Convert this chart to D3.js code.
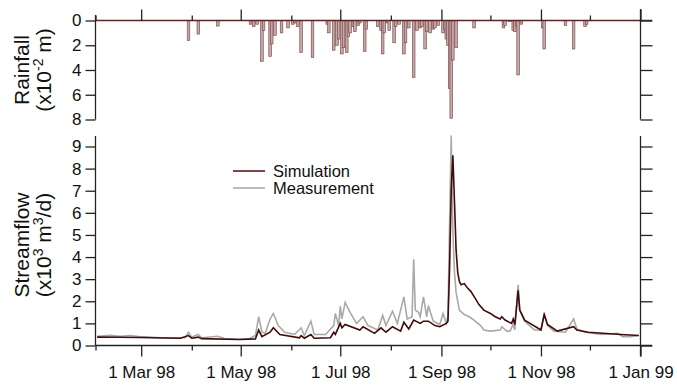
<!DOCTYPE html>
<html>
<head>
<meta charset="utf-8">
<script src="https://cdn.jsdelivr.net/npm/d3@7"></script>
<style>
  body { margin: 0; background: #fff; }
  text { font-family: "Liberation Sans", Arial, Helvetica, sans-serif; fill: #111; }
</style>
</head>
<body>
<div id="chart"></div>
<script>
// daily rainfall (x10^-2 m), 1998
const rainDates = ["03-30","04-05","04-17","05-07","05-09","05-11","05-14","05-15","05-19","05-20","05-22","05-26","05-30",
  "06-02","06-03","06-05","06-07","06-14","06-23","06-24","06-27","06-29","06-30","07-02","07-03","07-05","07-06","07-07",
  "07-09","07-10","07-12","07-13","07-16","07-17","07-24","07-26","07-27","07-28","07-30","07-31","08-03","08-04","08-06",
  "08-09","08-10","08-12","08-15","08-17","08-19","08-20","08-22","08-23","08-25","08-27","08-28","08-30","09-02","09-03",
  "09-04","09-05","09-06","09-07","09-08","09-10","09-21","10-09","10-10","10-13","10-15","10-16","10-17","10-18","10-20",
  "11-02","11-03","11-16","11-21","11-28","11-29"];
const rainValues = [1.6,1.1,0.45,0.3,0.5,0.3,3.3,0.8,2.9,1.9,1.2,1.0,0.6,
  0.3,0.2,0.5,2.6,3.0,0.3,1.0,2.4,2.0,1.5,2.7,2.2,2.6,1.3,1.0,
  0.5,0.9,0.4,0.2,2.5,0.7,0.5,0.8,2.7,1.0,0.2,0.8,1.8,0.5,0.3,
  2.7,1.8,0.6,4.6,0.8,0.6,0.5,2.3,0.9,1.0,0.7,0.6,0.4,1.0,0.7,
  1.5,2.0,5.5,7.9,3.2,2.2,0.6,0.6,0.4,0.1,0.8,0.9,0.5,4.4,0.3,
  0.6,2.3,0.4,2.3,0.5,0.3];

// measured streamflow (x10^3 m3/d)
const measDates = ["02-02","02-10","02-16","02-22","02-28","03-13","03-28","03-30","04-01","04-05","04-07","04-17","04-21",
  "04-30","05-06","05-10","05-12","05-14","05-16","05-19","05-21","05-24","05-28","06-03","06-07","06-09","06-13","06-15",
  "06-22","06-27","06-28","06-30","07-01","07-02","07-04","07-07","07-11","07-15","07-18","07-24","07-27","07-29","08-02",
  "08-05","08-09","08-11","08-14","08-15","08-16","08-18","08-19","08-21","08-23","08-24","08-27","08-31","09-02","09-04",
  "09-05","09-06","09-07","09-08","09-09","09-10","09-12","09-15","09-18","09-20","09-25","09-27","10-01","10-07","10-08",
  "10-11","10-13","10-15","10-16","10-18","10-19","10-22","10-28","11-01","11-03","11-05","11-09","11-16","11-21","11-23",
  "11-28","12-08","12-18","12-21","12-26","12-31"];
const measValues = [0.42,0.46,0.42,0.45,0.40,0.35,0.35,0.60,0.38,0.50,0.35,0.42,0.32,
  0.28,0.30,0.45,1.30,0.60,0.55,1.20,1.45,0.90,0.60,0.50,0.80,0.45,1.10,0.50,
  0.50,0.90,1.45,0.90,1.77,1.20,1.95,1.50,1.00,1.30,0.90,0.70,1.36,0.90,1.55,
  1.00,2.20,1.20,1.30,3.90,1.60,1.50,1.30,2.20,1.30,1.80,1.10,0.95,1.45,1.00,
  1.30,5.50,9.50,5.20,3.30,2.40,1.60,1.40,1.30,1.20,0.90,0.70,0.65,0.70,0.85,
  0.65,0.65,0.95,0.70,2.75,1.60,1.10,0.70,0.70,1.45,0.90,0.65,0.60,1.20,0.75,
  0.60,0.50,0.55,0.40,0.40,0.45];

// simulated streamflow (x10^3 m3/d)
const simDates = ["02-02","02-16","02-28","03-25","03-30","04-01","04-05","04-07","04-30","05-10","05-12","05-14","05-19",
  "05-21","05-25","06-06","06-07","06-09","06-13","06-15","06-25","06-27","06-28","07-01","07-02","07-04","07-13","07-15",
  "07-22","07-26","07-29","08-02","08-07","08-09","08-12","08-15","08-19","08-21","08-24","08-28","08-31","09-04","09-05",
  "09-06","09-07","09-08","09-09","09-10","09-11","09-12","09-13","09-15","09-17","09-19","09-22","09-24","09-27","10-01",
  "10-04","10-07","10-08","10-10","10-14","10-15","10-16","10-18","10-19","10-22","11-01","11-03","11-05","11-11","11-21",
  "11-23","11-30","12-20","12-31"];
const simValues = [0.38,0.37,0.36,0.33,0.45,0.33,0.38,0.31,0.27,0.30,0.70,0.40,0.60,
  0.80,0.50,0.35,0.45,0.33,0.50,0.33,0.35,0.60,0.50,1.00,0.80,0.95,0.70,0.85,
  0.55,0.80,0.60,0.85,0.65,1.05,0.75,1.15,1.00,1.10,1.10,0.90,0.85,1.00,1.10,
  3.50,7.00,8.60,6.50,4.30,3.30,2.90,2.75,2.80,2.60,2.45,2.10,1.85,1.60,1.45,
  1.30,1.20,1.30,1.15,1.00,1.20,0.95,2.50,1.60,1.15,0.70,1.40,0.95,0.65,0.85,
  0.70,0.60,0.50,0.45];

const majorTicks = ["1998-03-01","1998-05-01","1998-07-01","1998-09-01","1998-11-01","1999-01-01"];
const majorLabels = ["1 Mar 98","1 May 98","1 Jul 98","1 Sep 98","1 Nov 98","1 Jan 99"];
const minorTicks = ["1998-02-01","1998-04-01","1998-06-01","1998-08-01","1998-10-01","1998-12-01"];
const rainTicks = [0, 2, 4, 6, 8];
const flowTicks = [0, 1, 2, 3, 4, 5, 6, 7, 8, 9];

const parse = d3.timeParse("%Y-%m-%d");
const day = s => parse("1998-" + s);

const width = 677, height = 387;
const svg = d3.select("#chart").append("svg")
  .attr("width", width).attr("height", height);

const left = 95.5, right = 640.5;
const x = d3.scaleTime().domain([parse("1998-02-01"), parse("1999-01-01")]).range([left, right]);
const yRain = d3.scaleLinear().domain([0, 8]).range([20.5, 119.5]);
const yFlow = d3.scaleLinear().domain([0, 9]).range([345.5, 146.5]);

const axisColor = "#222";

function styleAxis(g) {
  g.select(".domain").remove();
  g.selectAll(".tick line").attr("stroke", axisColor).attr("stroke-width", 1.3);
  g.selectAll(".tick text").style("font-size", "17px").attr("fill", "#111");
}

// ---- rainfall panel ----
const rain = rainDates.map((d, i) => ({date: day(d), v: rainValues[i]}));

svg.append("g").selectAll("rect")
  .data(rain).enter().append("rect")
  .attr("x", d => x(d.date) - 1.3)
  .attr("y", yRain(0))
  .attr("width", 2.6)
  .attr("height", d => yRain(d.v) - yRain(0))
  .attr("fill", "#c9a7a7")
  .attr("stroke", "#6e3f3f")
  .attr("stroke-width", 0.6);

// baseline
svg.append("line")
  .attr("x1", left).attr("x2", 652).attr("y1", yRain(0)).attr("y2", yRain(0))
  .attr("stroke", "#5a2626").attr("stroke-width", 1.3);

svg.append("g").attr("transform", `translate(0,${yRain(0)})`)
  .call(d3.axisTop(x).tickValues(majorTicks.map(parse)).tickSize(11).tickFormat(""))
  .call(styleAxis);
svg.append("g").attr("transform", `translate(0,${yRain(0)})`)
  .call(d3.axisTop(x).tickValues(minorTicks.map(parse)).tickSize(5).tickFormat(""))
  .call(styleAxis);

svg.append("g").attr("transform", `translate(${left},0)`)
  .call(d3.axisLeft(yRain).tickValues(rainTicks).tickSize(10).tickPadding(4))
  .call(styleAxis);
svg.append("g").attr("transform", `translate(${right},0)`)
  .call(d3.axisRight(yRain).tickValues(rainTicks).tickSize(12).tickFormat(""))
  .call(styleAxis);

svg.append("line").attr("x1", left).attr("x2", left).attr("y1", 15).attr("y2", yRain(8))
  .attr("stroke", axisColor).attr("stroke-width", 1.3);
svg.append("line").attr("x1", right).attr("x2", right).attr("y1", 9).attr("y2", yRain(8))
  .attr("stroke", axisColor).attr("stroke-width", 1.3);

// ---- streamflow panel ----
const meas = measDates.map((d, i) => ({date: day(d), v: measValues[i]}));
const sim = simDates.map((d, i) => ({date: day(d), v: simValues[i]}));

const line = d3.line().x(d => x(d.date)).y(d => yFlow(d.v));

svg.append("path").datum(meas)
  .attr("d", line).attr("fill", "none")
  .attr("stroke", "#a9a9a9").attr("stroke-width", 1.6);
svg.append("path").datum(sim)
  .attr("d", line).attr("fill", "none")
  .attr("stroke", "#3f0b0b").attr("stroke-width", 1.6);

svg.append("line").attr("x1", left).attr("x2", 652).attr("y1", yFlow(0)).attr("y2", yFlow(0))
  .attr("stroke", axisColor).attr("stroke-width", 1.3);

svg.append("g").attr("transform", `translate(0,${yFlow(0)})`)
  .call(d3.axisBottom(x).tickValues(majorTicks.map(parse)).tickSize(11).tickPadding(9)
    .tickFormat((d, i) => majorLabels[i]))
  .call(styleAxis);
svg.append("g").attr("transform", `translate(0,${yFlow(0)})`)
  .call(d3.axisBottom(x).tickValues(minorTicks.map(parse)).tickSize(5).tickFormat(""))
  .call(styleAxis);

svg.append("g").attr("transform", `translate(${left},0)`)
  .call(d3.axisLeft(yFlow).tickValues(flowTicks).tickSize(10).tickPadding(4))
  .call(styleAxis);
svg.append("g").attr("transform", `translate(${right},0)`)
  .call(d3.axisRight(yFlow).tickValues(flowTicks).tickSize(12).tickFormat(""))
  .call(styleAxis);

svg.append("line").attr("x1", left).attr("x2", left).attr("y1", 136).attr("y2", yFlow(0))
  .attr("stroke", axisColor).attr("stroke-width", 1.3);
svg.append("line").attr("x1", right).attr("x2", right).attr("y1", 136).attr("y2", yFlow(0) + 11)
  .attr("stroke", axisColor).attr("stroke-width", 1.3);

// ---- legend ----
const legend = [{name: "Simulation", color: "#5a1c1c", y: 171}, {name: "Measurement", color: "#aaaaaa", y: 188}];
legend.forEach(l => {
  svg.append("line").attr("x1", 233).attr("x2", 265).attr("y1", l.y).attr("y2", l.y)
    .attr("stroke", l.color).attr("stroke-width", 1.6);
  svg.append("text").attr("x", 273).attr("y", l.y).attr("dy", "0.35em")
    .style("font-size", "16.5px").text(l.name);
});

// ---- axis titles ----
function title(cx, cy, first, pre, sup1, mid, sup2, post) {
  const g = svg.append("g").attr("transform", `translate(${cx},${cy}) rotate(-90)`);
  g.append("text").attr("x", 0).attr("y", 0).attr("text-anchor", "middle")
    .style("font-size", "21px").text(first);
  const t = g.append("text").attr("x", 0).attr("y", 22).attr("text-anchor", "middle")
    .style("font-size", "21px");
  t.append("tspan").text(pre);
  t.append("tspan").attr("dy", -8).style("font-size", "14px").text(sup1);
  t.append("tspan").attr("dy", 8).text(mid);
  if (sup2) {
    t.append("tspan").attr("dy", -8).style("font-size", "14px").text(sup2);
    t.append("tspan").attr("dy", 8).text(post);
  }
}
title(29, 70, "Rainfall", "(x10", "-2", " m)");
title(29, 245, "Streamflow", "(x10", "3", " m", "3", "/d)");
</script>
</body>
</html>
